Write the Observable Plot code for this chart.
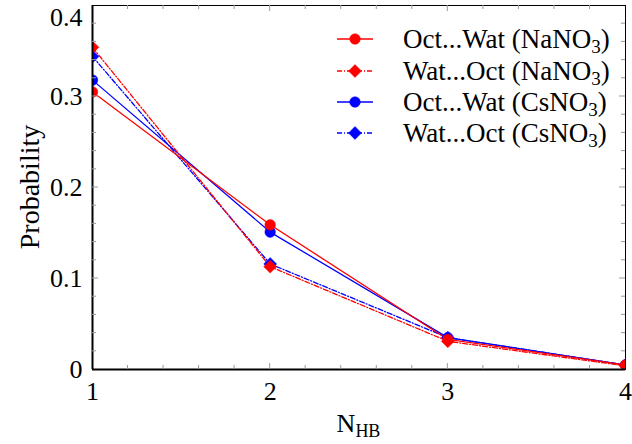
<!DOCTYPE html>
<html>
<head>
<meta charset="utf-8">
<script src="https://cdn.jsdelivr.net/npm/d3@7"></script>
<script src="https://cdn.jsdelivr.net/npm/@observablehq/plot@0.6"></script>
<style>
  html, body { margin: 0; padding: 0; background: #fff; }
  svg text { font-family: "Liberation Serif", "Times New Roman", serif !important; }
</style>
</head>
<body>
<div id="chart"></div>
<script>
// ---- data ----
const nhb = [1, 2, 3, 4];
const octWatNa = [0.305, 0.159, 0.033, 0.005];
const watOctNa = [0.354, 0.113, 0.031, 0.004];
const octWatCs = [0.318, 0.151, 0.035, 0.005];
const watOctCs = [0.344, 0.116, 0.035, 0.005];
const seriesPrefix = ["Oct...Wat (NaNO", "Wat...Oct (NaNO", "Oct...Wat (CsNO", "Wat...Oct (CsNO"];
const seriesValues = [octWatNa, watOctNa, octWatCs, watOctCs];
const seriesColors = ["#ff0000", "#ff0000", "#0000ff", "#0000ff"];
const seriesDash = [null, "5,2,1,2", null, "5,2,1,2"];
const seriesSymbol = ["circle", "diamond2", "circle", "diamond2"];
const xTicks = [1, 2, 3, 4];
const yTicks = [0, 0.1, 0.2, 0.3];
const yTopTick = [0.4];
const yTickLabels = ["0", "0.1", "0.2", "0.3", "0.4"];
const yLabelValues = [0, 0.1, 0.2, 0.3, 0.4];
const xMinor = d3.range(1, 4.0001, 0.2);
const yMinor = d3.range(0, 0.40001, 0.02);

const FONT = "'Liberation Serif', 'Times New Roman', serif";
const series = seriesValues.map((vals, i) => nhb.map((x, j) => ({x, y: vals[j], s: i})));
// draw blue first, then red on top
const drawOrder = [2, 3, 0, 1];
const yFmt = d => yTickLabels[yLabelValues.findIndex(v => Math.abs(v - d) < 1e-9)];

const marks = [];
for (const i of drawOrder) {
  marks.push(Plot.line(series[i], {x: "x", y: "y", stroke: seriesColors[i], strokeWidth: 1.3,
    strokeDasharray: seriesDash[i] ?? undefined, clip: "frame"}));
}
for (const i of drawOrder) {
  marks.push(Plot.dot(series[i], {x: "x", y: "y", fill: seriesColors[i], stroke: seriesColors[i],
    strokeWidth: 0.5, symbol: seriesSymbol[i], r: seriesSymbol[i] === "circle" ? 5.3 : 5.8, clip: "frame"}));
}
marks.push(Plot.frame({stroke: "#000", strokeWidth: 1}));
marks.push(Plot.ruleY([0], {stroke: "#000", strokeWidth: 2}));
marks.push(Plot.ruleX([1], {stroke: "#000", strokeWidth: 2}));
marks.push(Plot.axisX(xTicks, {anchor: "bottom", tickSize: 0, tickPadding: 12, fontSize: 26,
  label: null, tickFormat: d => String(d)}));
marks.push(Plot.axisY(yTicks, {anchor: "left", tickSize: 0, tickPadding: 10, fontSize: 26,
  label: null, tickFormat: yFmt}));
marks.push(Plot.axisY(yTopTick, {anchor: "left", tickSize: 0, tickPadding: 10, fontSize: 26,
  label: null, tickFormat: yFmt, dy: 12}));

const plot = Plot.plot({
  width: 632,
  height: 444,
  marginLeft: 92,
  marginRight: 7,
  marginTop: 5,
  marginBottom: 75,
  x: {domain: [1, 4]},
  y: {domain: [0, 0.4]},
  style: {color: "#000", background: "#fff"},
  marks
});
document.getElementById("chart").appendChild(plot);

// ---- inward ticks, labels, legend using the plot's scales ----
const sx = plot.scale("x"), sy = plot.scale("y");
const X = v => sx.apply(v), Y = v => sy.apply(v);
const svg = d3.select(plot);
const x0 = X(1), x1 = X(4), y0 = Y(0), y1 = Y(0.4);
const tg = svg.append("g").attr("stroke", "#999").attr("stroke-width", 1);
const isMajorX = v => Math.abs(v - Math.round(v)) < 1e-6;
const isMajorY = v => Math.abs(v * 10 - Math.round(v * 10)) < 1e-6;
for (const v of xMinor) {
  if (v < 1.0001 || v > 3.9999) continue;
  const len = isMajorX(v) ? 6 : 4;
  tg.append("line").attr("x1", X(v)).attr("x2", X(v)).attr("y1", y0).attr("y2", y0 - len);
  tg.append("line").attr("x1", X(v)).attr("x2", X(v)).attr("y1", y1).attr("y2", y1 + len);
}
for (const v of yMinor) {
  if (v < 0.0001 || v > 0.3999) continue;
  const len = isMajorY(v) ? 6 : 4;
  tg.append("line").attr("y1", Y(v)).attr("y2", Y(v)).attr("x1", x0).attr("x2", x0 + len);
  tg.append("line").attr("y1", Y(v)).attr("y2", Y(v)).attr("x1", x1).attr("x2", x1 - len);
}

// axis titles
const xt = svg.append("text").attr("x", (x0 + x1) / 2).attr("y", 432).attr("text-anchor", "middle")
  .attr("font-size", 26).attr("fill", "#000");
xt.append("tspan").text("N");
xt.append("tspan").attr("dy", 5).attr("font-size", 18).text("HB");
svg.append("text").attr("transform", `translate(39,${(y0 + y1) / 2}) rotate(-90)`)
  .attr("text-anchor", "middle").attr("font-size", 28).attr("fill", "#000")
  .text("Probability");

// legend
const lg = svg.append("g").attr("text-anchor", "start");
const legendY = [39, 71, 102, 133];
seriesPrefix.forEach((name, i) => {
  const yy = legendY[i];
  lg.append("line").attr("x1", 337).attr("x2", 373).attr("y1", yy).attr("y2", yy)
    .attr("stroke", seriesColors[i]).attr("stroke-width", 1.3)
    .attr("stroke-dasharray", seriesDash[i]);
  const sym = seriesSymbol[i] === "circle" ? d3.symbolCircle : d3.symbolDiamond2;
  const r = seriesSymbol[i] === "circle" ? 5.3 : 5.8;
  lg.append("path").attr("d", d3.symbol(sym, r * r * Math.PI)())
    .attr("transform", `translate(355,${yy})`).attr("fill", seriesColors[i]).attr("stroke", seriesColors[i]).attr("stroke-width", 0.5);
  const t = lg.append("text").attr("x", 403).attr("y", yy + 9).attr("font-size", 27)
    .attr("text-anchor", "start").attr("fill", "#000");
  t.append("tspan").text(name);
  t.append("tspan").attr("dy", 5).attr("font-size", 19).text("3");
  t.append("tspan").attr("dy", -5).text(")");
});
svg.selectAll("text").style("font-family", FONT).style("font-variant", "normal");
</script>
</body>
</html>
